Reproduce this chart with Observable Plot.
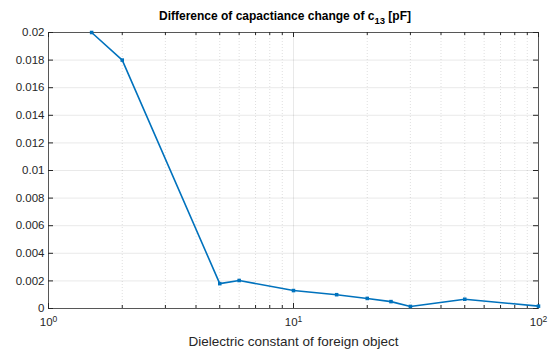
<!DOCTYPE html>
<html><head><meta charset="utf-8">
<script src="https://cdn.jsdelivr.net/npm/d3@7"></script>
<script src="https://cdn.jsdelivr.net/npm/@observablehq/plot@0.6"></script>
<style>
body{margin:0;background:#fff;font-family:"Liberation Sans",Arial,sans-serif;}
#title{position:relative;height:24px;z-index:2;}
#title span{position:absolute;left:159px;top:9px;line-height:14px;font-size:12px;font-weight:bold;color:#000;white-space:nowrap;}
#title sub{font-size:9.5px;vertical-align:-3.5px;line-height:0;}
</style>
</head><body>
<div id="title"><span>Difference of capactiance change of c<sub>13</sub> [pF]</span></div>
<div id="chart"></div>
<script>
const dielectric = [1.5, 2, 5, 6, 10, 15, 20, 25, 30, 50, 100];
const capDiff = [0.02, 0.018, 0.0018, 0.00203, 0.0013, 0.001, 0.00073, 0.0005, 0.00015, 0.00067, 0.00017];
const yTicks = [0, 0.002, 0.004, 0.006, 0.008, 0.01, 0.012, 0.014, 0.016, 0.018, 0.02];
const xMajor = [1, 10, 100];
const xMajorExp = ["0", "1", "2"];
const xMinor = [2, 3, 4, 5, 6, 7, 8, 9, 20, 30, 40, 50, 60, 70, 80, 90];

const W = 552, H = 325, mT = 8, mB = 41, mL = 48, mR = 14;
const iH = H - mT - mB, iW = W - mL - mR;
const axisCol = "#262626";
const lineCol = "#0072BD";

const data = dielectric.map((x, i) => ({x, y: capDiff[i]}));

const chart = Plot.plot({
  width: W, height: H,
  marginTop: mT, marginBottom: mB, marginLeft: mL, marginRight: mR,
  style: {background: "none", fontFamily: "'Liberation Sans', Arial, sans-serif", color: axisCol},
  x: {type: "log", domain: [1, 100]},
  y: {domain: [0, 0.02]},
  marks: [
    Plot.ruleX(xMinor, {stroke: axisCol, strokeOpacity: 0.15, strokeDasharray: "1,2"}),
    Plot.ruleX(xMajor, {stroke: axisCol, strokeOpacity: 0.1}),
    Plot.ruleY(yTicks, {stroke: axisCol, strokeOpacity: 0.1}),
    Plot.tickX(xMajor, {stroke: axisCol, insetTop: iH - 5}),
    Plot.tickX(xMajor, {stroke: axisCol, insetBottom: iH - 5}),
    Plot.tickX(xMinor, {stroke: axisCol, insetTop: iH - 3}),
    Plot.tickX(xMinor, {stroke: axisCol, insetBottom: iH - 3}),
    Plot.tickY(yTicks, {stroke: axisCol, insetRight: iW - 5}),
    Plot.tickY(yTicks, {stroke: axisCol, insetLeft: iW - 5}),
    Plot.frame({stroke: axisCol, strokeOpacity: 0.75}),
    Plot.axisY({ticks: yTicks, tickSize: 0, tickPadding: 4, fontSize: 11.5, tickFormat: d => String(d), label: null}),
    Plot.axisX({ticks: xMajor, tickSize: 0, tickPadding: 9, fontSize: 11.5,
      tickFormat: d => "10^" + xMajorExp[xMajor.indexOf(d)],
      label: "Dielectric constant of foreign object", labelAnchor: "center", labelArrow: "none", labelOffset: 37}),
    Plot.line(data, {x: "x", y: "y", stroke: lineCol, strokeWidth: 1.6}),
    Plot.dot(data, {x: "x", y: "y", symbol: "square", r: 2, fill: lineCol, stroke: "none"})
  ]
});
chart.querySelectorAll("g[aria-label='x-axis label'] text").forEach(t => t.setAttribute("font-size", "13.5"));
chart.querySelectorAll("g[aria-label='x-axis tick label'] text").forEach(t => {
  const [base, exp] = t.textContent.split("^");
  t.textContent = "";
  const ns = "http://www.w3.org/2000/svg";
  const a = document.createElementNS(ns, "tspan"); a.textContent = base;
  const b = document.createElementNS(ns, "tspan"); b.textContent = exp;
  b.setAttribute("dy", "-0.45em"); b.setAttribute("font-size", "8.5");
  t.appendChild(a); t.appendChild(b);
});
document.getElementById("chart").appendChild(chart);
</script>
</body></html>
